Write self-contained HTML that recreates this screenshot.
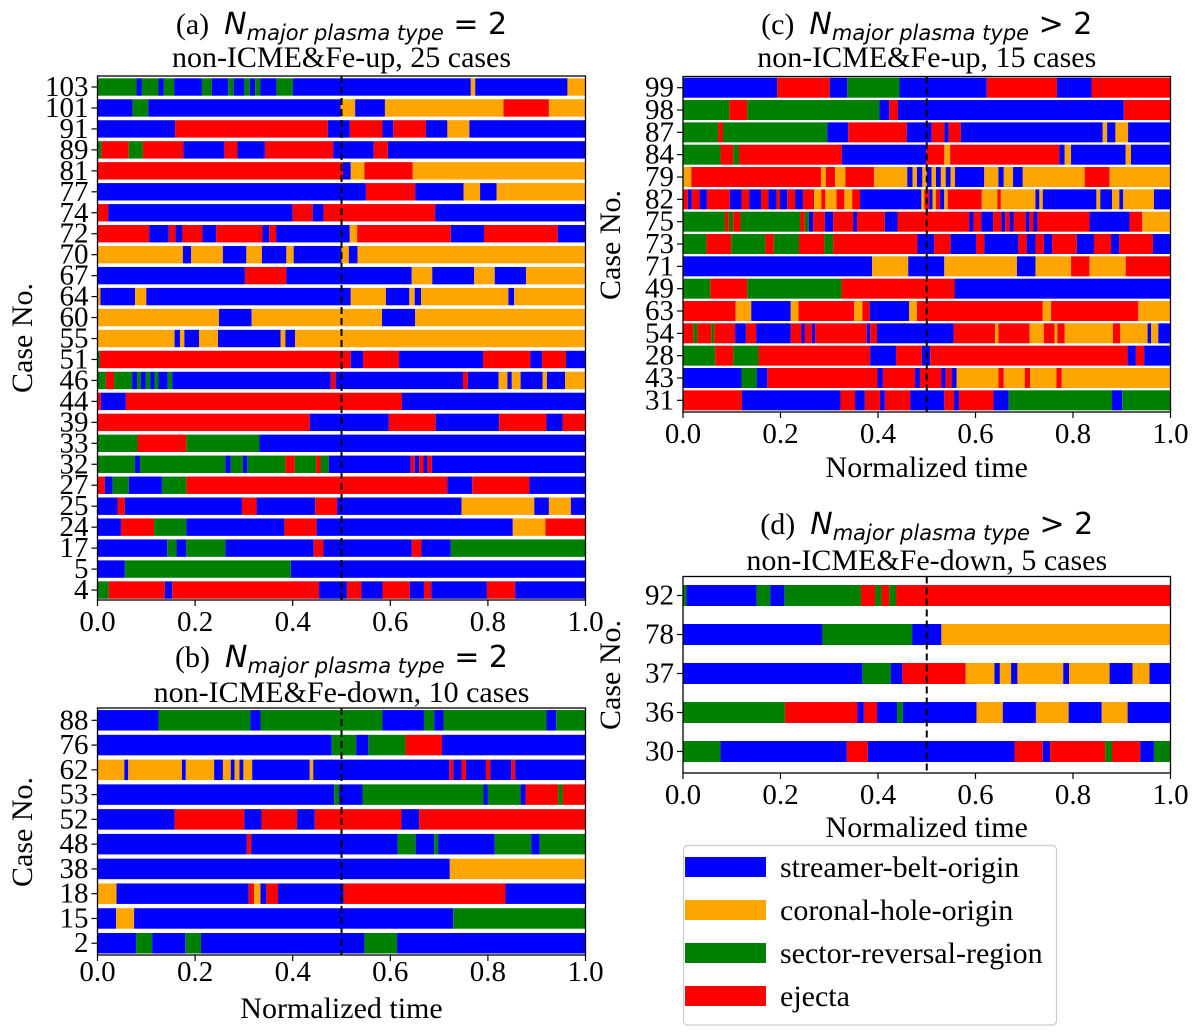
<!DOCTYPE html>
<html><head><meta charset="utf-8">
<style>
html,body{margin:0;padding:0;background:#fff;}
svg{display:block;}
text{font-family:"Liberation Serif",serif;fill:#000;}
.m{font-family:"DejaVu Sans",sans-serif;}
</style></head>
<body>
<svg id="fig" width="1200" height="1035" viewBox="0 0 1200 1035" xmlns="http://www.w3.org/2000/svg"></svg>
<script>
const colors = {B:"#0000ff", O:"#ffa500", G:"#008000", R:"#ff0000"};
const xTicks = [0,0.2,0.4,0.6,0.8,1.0];
const xTickLabels = ["0.0","0.2","0.4","0.6","0.8","1.0"];

const casesA = ["103","101","91","89","81","77","74","72","70","67","64","60","55","51","46","44","39","33","32","27","25","24","17","5","4"];
const segsA = [
["G",.080,"B",.091,"G",.125,"B",.136,"G",.157,"B",.214,"G",.234,"B",.268,"G",.279,"B",.301,"G",.312,"B",.323,"G",.334,"B",.367,"G",.400,"B",.765,"O",.774,"B",.963,"O",1],
["B",.072,"G",.104,"B",.498,"O",.528,"B",.589,"O",.832,"R",.925,"O",1],
["B",.159,"R",.472,"B",.517,"R",.584,"B",.606,"R",.673,"B",.717,"O",.762,"B",1],
["G",.008,"R",.064,"G",.093,"R",.176,"B",.260,"R",.287,"B",.343,"R",.483,"B",.566,"R",.595,"B",1],
["R",.503,"B",.519,"O",.547,"R",.646,"O",1],
["B",.550,"R",.651,"B",.750,"O",.784,"B",.818,"O",1],
["R",.022,"B",.400,"R",.441,"B",.463,"R",.692,"B",1],
["R",.106,"B",.146,"R",.160,"B",.174,"R",.215,"B",.243,"R",.338,"B",.352,"R",.366,"B",.517,"O",.532,"R",.724,"B",.792,"R",.943,"B",1],
["O",.175,"B",.192,"O",.257,"B",.305,"O",.337,"B",.387,"O",.402,"B",.500,"O",.515,"B",.533,"O",1],
["B",.302,"R",.387,"B",.644,"O",.686,"B",.772,"O",.814,"B",.878,"O",1],
["O",.006,"B",.077,"O",.100,"B",.519,"O",.591,"B",.639,"O",.650,"B",.663,"O",.842,"B",.854,"O",1],
["O",.249,"B",.316,"O",.583,"B",.651,"O",1],
["O",.158,"B",.169,"O",.178,"B",.208,"O",.247,"B",.375,"O",.385,"B",.405,"O",1],
["G",.005,"R",.519,"B",.544,"R",.618,"B",.790,"R",.887,"B",.911,"R",.960,"B",1],
["G",.017,"R",.034,"G",.071,"B",.081,"G",.089,"B",.099,"G",.108,"B",.117,"G",.125,"B",.144,"G",.153,"B",.478,"R",.488,"B",.749,"R",.759,"B",.822,"O",.840,"B",.849,"O",.867,"B",.912,"O",.921,"B",.958,"O",1],
["R",.007,"B",.058,"R",.624,"B",1],
["R",.435,"B",.597,"R",.693,"B",.823,"R",.920,"B",.953,"R",1],
["G",.082,"R",.182,"G",.332,"B",1],
["G",.077,"B",.087,"G",.262,"B",.273,"G",.298,"B",.307,"G",.385,"R",.404,"G",.448,"R",.457,"G",.474,"B",.642,"R",.650,"B",.659,"R",.668,"B",.676,"R",.685,"B",1],
["R",.015,"B",.031,"G",.064,"B",.132,"G",.182,"R",.717,"B",.768,"R",.885,"B",1],
["B",.041,"R",.056,"B",.296,"R",.326,"B",.446,"R",.491,"B",.746,"O",.895,"B",.925,"O",.970,"B",1],
["B",.048,"R",.116,"G",.182,"B",.383,"R",.449,"B",.851,"O",.918,"R",1],
["B",.143,"G",.162,"B",.182,"G",.262,"B",.443,"R",.463,"B",.644,"R",.664,"B",.724,"G",1],
["B",.056,"G",.396,"B",1],
["G",.023,"R",.138,"B",.153,"R",.454,"B",.511,"R",.541,"B",.584,"R",.640,"B",.669,"R",.684,"B",.798,"R",.856,"B",1]
];

const casesB = ["88","76","62","53","52","48","38","18","15","2"];
const segsB = [
["B",.125,"G",.313,"B",.334,"G",.584,"B",.669,"G",.690,"B",.709,"G",.920,"B",.940,"G",1],
["B",.480,"G",.530,"B",.555,"G",.631,"R",.706,"B",1],
["O",.055,"B",.063,"O",.173,"B",.181,"O",.239,"B",.257,"O",.273,"B",.281,"O",.291,"B",.299,"O",.317,"B",.435,"O",.442,"B",.721,"R",.729,"B",.746,"R",.755,"B",.796,"R",.805,"B",.848,"R",.856,"B",1],
["B",.485,"G",.495,"B",.543,"G",.791,"B",.800,"G",.867,"B",.877,"R",.944,"G",.953,"R",1],
["B",.158,"R",.301,"B",.336,"R",.409,"B",.445,"R",.623,"B",.659,"R",1],
["B",.306,"R",.315,"B",.615,"G",.652,"B",.690,"G",.698,"B",.814,"G",.889,"B",.906,"G",1],
["B",.722,"O",1],
["O",.039,"B",.310,"R",.321,"O",.334,"B",.346,"R",.370,"B",.504,"R",.836,"B",1],
["B",.038,"O",.075,"B",.729,"G",1],
["B",.079,"G",.112,"B",.180,"G",.212,"B",.547,"G",.614,"B",1]
];

const casesC = ["99","98","87","84","79","82","75","73","71","49","63","54","28","43","31"];
const segsC = [
["B",.193,"R",.301,"B",.337,"G",.444,"B",.623,"R",.767,"B",.838,"R",1],
["G",.095,"R",.132,"G",.403,"B",.423,"R",.441,"B",.904,"R",1],
["G",.072,"R",.082,"G",.296,"B",.339,"R",.459,"B",.510,"R",.536,"B",.545,"R",.570,"B",.861,"O",.870,"B",.887,"O",.913,"B",1],
["G",.077,"R",.103,"G",.115,"R",.326,"B",.499,"R",.536,"O",.548,"R",.772,"B",.783,"O",.796,"B",.908,"O",.919,"B",1],
["O",.017,"R",.283,"O",.293,"R",.312,"O",.333,"R",.392,"O",.460,"B",.471,"O",.480,"B",.491,"O",.500,"B",.510,"O",.519,"B",.529,"O",.539,"B",.549,"O",.558,"B",.618,"O",.647,"B",.658,"O",.677,"B",.697,"O",.824,"R",.875,"O",1],
["R",.010,"B",.018,"R",.034,"B",.049,"R",.096,"B",.120,"R",.136,"B",.160,"R",.175,"B",.192,"R",.199,"B",.214,"R",.230,"B",.246,"R",.269,"O",.284,"R",.292,"O",.315,"R",.331,"O",.347,"R",.363,"B",.489,"O",.495,"R",.505,"B",.512,"O",.519,"R",.527,"B",.536,"O",.543,"R",.613,"O",.645,"R",.652,"O",.723,"B",.731,"O",.738,"B",.848,"O",.856,"B",.880,"O",.895,"B",.903,"O",.966,"B",1],
["G",.086,"R",.094,"G",.103,"R",.118,"G",.240,"R",.250,"G",.258,"B",.267,"R",.291,"B",.308,"R",.349,"B",.357,"R",.414,"B",.440,"R",.587,"B",.596,"R",.612,"B",.636,"R",.653,"B",.661,"R",.670,"B",.678,"R",.703,"B",.711,"R",.719,"B",.727,"R",.834,"B",.916,"R",.942,"O",1],
["G",.048,"R",.099,"G",.169,"R",.186,"G",.238,"R",.290,"G",.308,"R",.481,"B",.515,"R",.549,"B",.601,"R",.618,"B",.688,"R",.705,"B",.723,"R",.740,"B",.757,"R",.808,"B",.843,"R",.878,"B",.895,"R",.964,"B",1],
["B",.388,"O",.462,"B",.536,"O",.685,"B",.723,"O",.796,"R",.834,"O",.908,"R",1],
["G",.056,"R",.132,"G",.325,"R",.557,"B",1],
["R",.108,"O",.140,"B",.221,"O",.237,"R",.351,"O",.368,"R",.383,"B",.464,"O",.480,"R",.738,"O",.755,"R",.934,"O",1],
["R",.021,"G",.029,"R",.058,"G",.064,"R",.107,"B",.129,"R",.150,"B",.221,"R",.243,"B",.250,"R",.264,"B",.271,"R",.377,"B",.384,"R",.398,"B",.555,"R",.640,"O",.647,"R",.711,"O",.740,"R",.762,"O",.768,"R",.783,"O",.882,"R",.897,"O",.953,"B",.960,"O",.975,"B",1],
["G",.066,"R",.103,"G",.155,"R",.384,"B",.437,"R",.490,"B",.507,"R",.912,"B",.929,"R",.946,"B",1],
["B",.120,"G",.151,"B",.173,"R",.399,"B",.410,"R",.476,"B",.486,"R",.530,"B",.539,"R",.551,"B",.561,"O",.647,"R",.658,"O",.701,"R",.712,"O",.766,"R",.777,"O",1],
["R",.121,"B",.323,"R",.353,"B",.373,"R",.404,"B",.414,"R",.466,"B",.536,"R",.556,"B",.566,"R",.637,"B",.668,"G",.880,"B",.901,"G",1]
];

const casesD = ["92","78","37","36","30"];
const segsD = [
["G",.007,"B",.151,"G",.179,"B",.208,"G",.365,"R",.394,"G",.407,"R",.423,"G",.437,"R",1],
["B",.286,"G",.470,"B",.530,"O",1],
["B",.368,"G",.426,"B",.450,"R",.580,"O",.639,"B",.650,"O",.673,"B",.686,"O",.780,"B",.792,"O",.875,"B",.922,"O",.957,"B",1],
["G",.209,"R",.358,"B",.371,"R",.398,"B",.439,"G",.451,"B",.602,"O",.656,"B",.724,"O",.791,"B",.859,"O",.912,"B",1],
["G",.077,"B",.336,"R",.379,"B",.680,"R",.738,"B",.753,"R",.866,"G",.880,"R",.938,"B",.966,"G",1]
];

const legendLabels = ["streamer-belt-origin","coronal-hole-origin","sector-reversal-region","ejecta"];
const legendKeys = ["B","O","G","R"];

const NS = "http://www.w3.org/2000/svg";
const svg = document.getElementById("fig");
function mk(tag, attrs, parent){
  const e = document.createElementNS(NS, tag);
  for (const k in attrs) e.setAttribute(k, attrs[k]);
  (parent||svg).appendChild(e);
  return e;
}

function panel(p){
  const g = mk("g", {});
  
  
  const xs = v => p.x0 + v*(p.x1-p.x0);
  const ys = i => p.yc0 + i*p.dy;
  p.segs.forEach((row, i) => {
    let start = 0;
    for (let k=0; k<row.length; k+=2){
      const t = row[k], end = row[k+1];
      const r = mk("rect", {x:xs(start), y:ys(i)-p.bh/2, width:Math.max(0,xs(end)-xs(start)), height:p.bh, fill:colors[t]}, g);
      
      
      start = end;
    }
  });
  const dl = mk("line", {x1:xs(0.5), x2:xs(0.5), y1:p.top, y2:p.bot, stroke:"#000", "stroke-width":2, "stroke-dasharray":"7,4"}, g);
  
  
  const fr = mk("rect", {x:p.x0, y:p.top, width:p.x1-p.x0, height:p.bot-p.top, fill:"none", stroke:"#000", "stroke-width":1.3}, g);
  
  
  xTicks.forEach((v, i) => {
    mk("line", {x1:xs(v), x2:xs(v), y1:p.bot, y2:p.bot+6, stroke:"#000", "stroke-width":1.2}, g);
    const t = mk("text", {x:xs(v), y:p.xtY, "text-anchor":"middle", "font-size":29}, g);
    t.textContent = xTickLabels[i];
    
    
  });
  p.cases.forEach((c, i) => {
    mk("line", {x1:p.x0-6, x2:p.x0, y1:ys(i), y2:ys(i), stroke:"#000", "stroke-width":1.2}, g);
    const t = mk("text", {x:p.x0-9, y:ys(i)+9, "text-anchor":"end", "font-size":29}, g);
    t.textContent = c;
    
    
  });
  const yl = mk("text", {x:p.ylX, y:p.ylY, "text-anchor":"middle", "font-size":30, transform:`rotate(-90 ${p.ylX} ${p.ylY})`}, g);
  yl.textContent = "Case No.";
  
  
  if (p.xlY){
    const xl = mk("text", {x:(p.x0+p.x1)/2, y:p.xlY, "text-anchor":"middle", "font-size":30}, g);
    xl.textContent = "Normalized time";
    
    
  }
  const cx = (p.x0+p.x1)/2;
  const tt = mk("text", {x:cx, y:p.tY, "text-anchor":"middle", "font-size":30}, g);
  
  
  const s1 = mk("tspan", {}, tt); s1.textContent = p.letter + "\u00a0\u00a0";
  const s2 = mk("tspan", {class:"m", "font-style":"italic", "font-size":30}, tt); s2.textContent = "N";
  const s3 = mk("tspan", {class:"m", "font-style":"italic", "font-size":21, dy:6}, tt); s3.textContent = "major plasma type";
  const s4 = mk("tspan", {class:"m", "font-size":30, dy:-6}, tt); s4.textContent = " " + p.op;
  const st = mk("text", {x:cx, y:p.sY, "text-anchor":"middle", "font-size":30}, g);
  st.textContent = p.sub;
  
  
}

panel({name:"panel-a", letter:"(a)", op:"= 2", sub:"non-ICME&Fe-up, 25 cases", cases:casesA, segs:segsA,
  x0:97.5, x1:585.5, top:76, bot:600, yc0:87, dy:20.96, bh:17.4, xtY:631, xlY:0, ylX:32, ylY:338, tY:34, sY:67});
panel({name:"panel-b", letter:"(b)", op:"= 2", sub:"non-ICME&Fe-down, 10 cases", cases:casesB, segs:segsB,
  x0:97.5, x1:585.5, top:708, bot:955, yc0:720.3, dy:24.77, bh:20.5, xtY:981, xlY:1018, ylX:32, ylY:832, tY:667, sY:702});
panel({name:"panel-c", letter:"(c)", op:"> 2", sub:"non-ICME&Fe-up, 15 cases", cases:casesC, segs:segsC,
  x0:683, x1:1170.5, top:76.5, bot:412, yc0:87.7, dy:22.33, bh:20, xtY:443, xlY:477, ylX:620, ylY:245, tY:34, sY:67});
panel({name:"panel-d", letter:"(d)", op:"> 2", sub:"non-ICME&Fe-down, 5 cases", cases:casesD, segs:segsD,
  x0:683, x1:1170.5, top:576.5, bot:773, yc0:595.5, dy:39, bh:21, xtY:804, xlY:837, ylX:620, ylY:675, tY:534, sY:570});

const lg = mk("g", {});


mk("rect", {x:683.5, y:845.5, width:373, height:179.5, rx:4, fill:"#fff", stroke:"#cccccc", "stroke-width":1.2}, lg);
legendLabels.forEach((lab, i) => {
  const y = 867 + i*43;
  const r = mk("rect", {x:685, y:y-10, width:81, height:20, fill:colors[legendKeys[i]]}, lg);
  
  
  const t = mk("text", {x:780, y:y+10, "font-size":30}, lg);
  t.textContent = lab;
  
  
});
</script>
</body></html>
